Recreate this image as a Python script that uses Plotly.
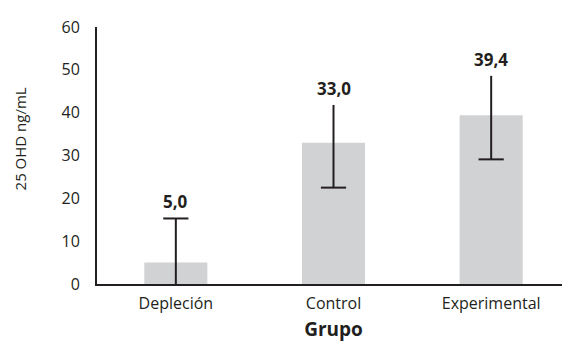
import plotly.graph_objects as go

categories = ["Depleción", "Control", "Experimental"]
values = [5.0, 33.0, 39.4]
err_plus = [10.3, 8.8, 9.2]
err_minus = [5.0, 10.5, 10.3]
cap_side = ["top", "bottom", "bottom"]
value_labels = ["5,0", "33,0", "39,4"]
y_ticks = [0, 10, 20, 30, 40, 50, 60]

DARK = "#231f20"
FONT = "Open Sans"

fig = go.Figure()
fig.add_trace(go.Bar(
    x=categories, y=values, width=0.4,
    marker=dict(color="#d1d2d4", line=dict(width=0)),
    error_y=dict(type="data", array=err_plus, arrayminus=err_minus,
                 symmetric=False, width=0, thickness=2, color=DARK),
    hoverinfo="skip",
))

cap_y = [v + p if s == "top" else v - m
         for v, p, m, s in zip(values, err_plus, err_minus, cap_side)]
fig.add_trace(go.Scatter(
    x=categories, y=cap_y, mode="markers",
    marker=dict(symbol="line-ew", size=18, line=dict(width=2, color=DARK)),
    hoverinfo="skip", cliponaxis=False,
))

for c, v, p, t in zip(categories, values, err_plus, value_labels):
    fig.add_annotation(x=c, y=v + p, text="<b>%s</b>" % t, showarrow=False,
                       yanchor="bottom", yshift=3,
                       font=dict(family=FONT, size=17, color=DARK))

# y-axis title (placed slightly above the axis centre, as in the reference)
fig.add_annotation(xref="paper", yref="paper", x=-0.163, y=0.566,
                   text="25 OHD ng/mL", textangle=-90, showarrow=False,
                   xanchor="center", yanchor="middle",
                   font=dict(family=FONT, size=15, color=DARK))

fig.update_layout(
    width=562, height=334,
    margin=dict(l=89, r=0, t=19, b=58, autoexpand=False),
    paper_bgcolor="white", plot_bgcolor="white",
    showlegend=False,
    font=dict(family=FONT, color=DARK),
    xaxis=dict(range=[-0.5, 2.5], showline=True, linecolor=DARK, linewidth=2,
               showgrid=False, zeroline=False, ticks="",
               ticklabelstandoff=4, automargin=False,
               tickfont=dict(family=FONT, size=16, color=DARK),
               title=dict(text="<b>Grupo</b>", standoff=15,
                          font=dict(family=FONT, size=19, color=DARK))),
    yaxis=dict(range=[0, 60], tickvals=y_ticks, showline=True, linecolor=DARK,
               linewidth=2, showgrid=False, zeroline=False, ticks="",
               ticklabelstandoff=12, automargin=False,
               tickfont=dict(family=FONT, size=16, color=DARK)),
)

fig.write_html("out.html")
